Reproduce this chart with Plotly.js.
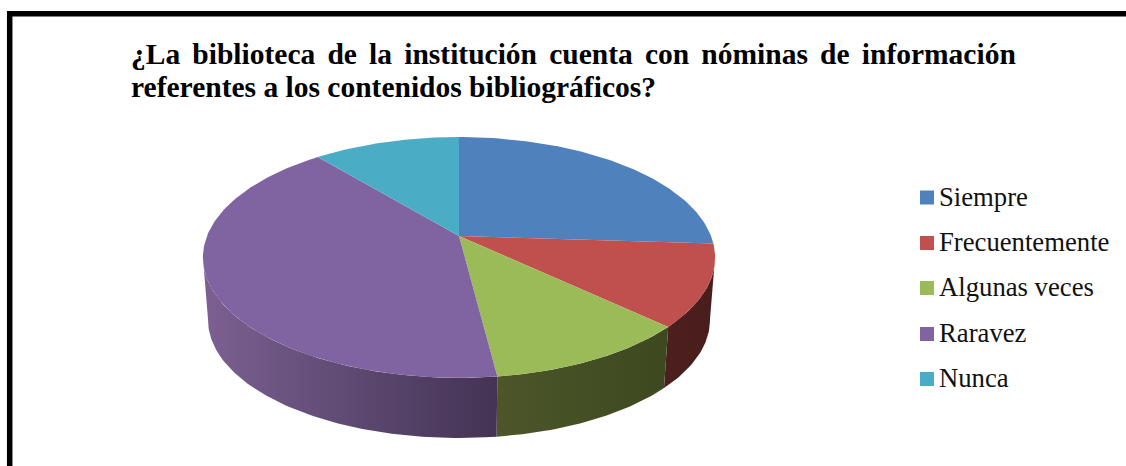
<!DOCTYPE html>
<html>
<head>
<meta charset="utf-8">
<script src="https://cdn.plot.ly/plotly-3.0.1.min.js"></script>
<style>
html,body{margin:0;padding:0;background:#fff}
#chart{width:1126px;height:466px}
.annotation[data-index="0"] text{word-spacing:4.8px}
</style>
</head>
<body>
<div id="chart"></div>
<script>
var titleLines = ["¿La biblioteca de la institución cuenta con nóminas de información", "referentes a los contenidos bibliográficos?"];
var categories = ["Siempre", "Frecuentemente", "Algunas veces", "Raravez", "Nunca"];
var values = [26, 11, 11, 41, 11];
var topColors = ["#4f81bd", "#c0504d", "#9bbb59", "#8064a2", "#4bacc6"];
var sideColors = [
  [[0,"#2f4d71"],[1,"#2f4d71"]],
  [[0,"#4d2020"],[1,"#4a1d1d"]],
  [[0,"#4c5629"],[1,"#3d4820"]],
  [[0,"#7c6092"],[0.5,"#5e4a72"],[1,"#443354"]],
  [[0,"#2d6677"],[1,"#2d6677"]]
];
var legendY = [197.5, 243, 288, 334, 379];

var CX = 459, TOPY = 236, BOTY = 299, A = 252, B = 116.6, K = 0.178, SHRINK = 0.98;
var total = values.reduce(function(a,b){return a+b;}, 0);
function project(deg, y0, s){
  var t = deg*Math.PI/180, u = Math.sin(t), v = Math.cos(t), d = 1 + K*v;
  return [CX + s*A*u/d, y0 - s*B*v/d];
}
var traces = [];
var start = 0, STEP = 1, VIS0 = 100, VIS1 = 260;

// side walls
values.forEach(function(val,i){
  var end = start + val/total*360;
  var a0 = Math.max(start, VIS0), a1 = Math.min(end, VIS1);
  if (a1 > a0){
    var xs=[], ys=[], d, p;
    for (d=a0; d<a1; d+=STEP){ p=project(d,TOPY,1); xs.push(p[0]); ys.push(p[1]); }
    p=project(a1,TOPY,1); xs.push(p[0]); ys.push(p[1]);
    for (d=a1; d>a0; d-=STEP){ p=project(d,BOTY,SHRINK); xs.push(p[0]); ys.push(p[1]); }
    p=project(a0,BOTY,SHRINK); xs.push(p[0]); ys.push(p[1]);
    traces.push({type:"scatter",mode:"lines",x:xs,y:ys,fill:"toself",line:{width:0},
      fillgradient:{type:"horizontal",colorscale:sideColors[i]},
      hoverinfo:"skip",showlegend:false});
  }
  start = end;
});
// top faces
start = 0;
values.forEach(function(val,i){
  var end = start + val/total*360, xs=[CX], ys=[TOPY], d, p;
  for (d=start; d<end; d+=STEP){ p=project(d,TOPY,1); xs.push(p[0]); ys.push(p[1]); }
  p=project(end,TOPY,1); xs.push(p[0]); ys.push(p[1]);
  xs.push(CX); ys.push(TOPY);
  traces.push({type:"scatter",mode:"lines",x:xs,y:ys,fill:"toself",fillcolor:topColors[i],
    line:{width:0},name:categories[i],text:String(val),hoverinfo:"name+text",showlegend:false});
  start = end;
});
// legend
categories.forEach(function(c,i){
  traces.push({type:"scatter",mode:"markers",x:[927],y:[legendY[i]],
    marker:{symbol:"square",size:14,color:topColors[i]},
    hoverinfo:"skip",showlegend:false,cliponaxis:false});
  traces.push({type:"scatter",mode:"text",x:[939],y:[legendY[i]+1.5],text:[c],
    textposition:"middle right",
    textfont:{family:"Liberation Serif",size:26.7,color:"#111"},
    hoverinfo:"skip",showlegend:false,cliponaxis:false});
});

var titleFont = {family:"Liberation Serif",size:29.5,color:"#000",weight:"bold"};
var layout = {
  width:1126,height:466,margin:{l:0,r:0,t:0,b:0},
  paper_bgcolor:"#fff",plot_bgcolor:"#fff",showlegend:false,
  xaxis:{range:[0,1126],visible:false,fixedrange:true},
  yaxis:{range:[466,0],visible:false,fixedrange:true},
  annotations:[
    {text:titleLines[0],xref:"x",yref:"y",x:129,y:54,xanchor:"left",yanchor:"middle",align:"left",showarrow:false,font:titleFont},
    {text:titleLines[1],xref:"x",yref:"y",x:129,y:87,xanchor:"left",yanchor:"middle",align:"left",showarrow:false,font:titleFont}
  ],
  shapes:[
    {type:"line",xref:"x",yref:"y",x0:7,x1:1126,y0:13.7,y1:13.7,line:{color:"#000",width:5.5}},
    {type:"line",xref:"x",yref:"y",x0:9.7,x1:9.7,y0:11,y1:466,line:{color:"#000",width:5.5}}
  ]
};
Plotly.newPlot("chart",traces,layout,{displayModeBar:false,staticPlot:true});
</script>
</body>
</html>
